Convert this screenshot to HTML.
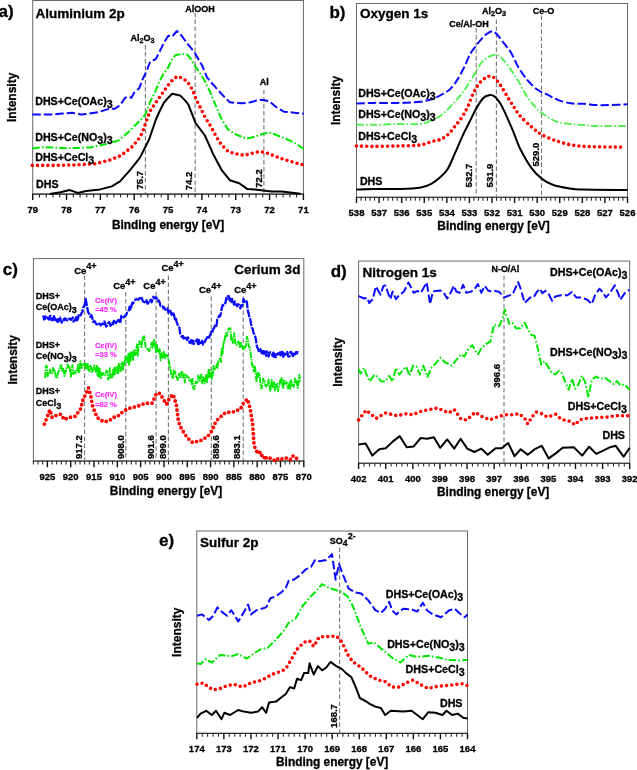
<!DOCTYPE html>
<html><head><meta charset="utf-8"><style>
html,body{margin:0;padding:0;background:#fff;width:637px;height:770px;overflow:hidden}
svg{display:block;will-change:transform}
text{font-family:"Liberation Sans", sans-serif}
</style></head><body>
<svg width="637" height="770" viewBox="0 0 637 770">
<rect width="637" height="770" fill="#fff"/>
<rect x="32.70" y="0.50" width="270.70" height="193.60" fill="none" stroke="#686868" stroke-width="1"/>
<line x1="32.20" y1="194.10" x2="303.90" y2="194.10" stroke="#303030" stroke-width="1.1"/>
<path d="M32.70,194.10v5.8 M66.54,194.10v5.8 M100.38,194.10v5.8 M134.21,194.10v5.8 M168.05,194.10v5.8 M201.89,194.10v5.8 M235.72,194.10v5.8 M269.56,194.10v5.8 M303.40,194.10v5.8" stroke="#111" stroke-width="1.4" fill="none"/>
<path d="M39.47,194.10v3.4 M46.24,194.10v3.4 M53.00,194.10v3.4 M59.77,194.10v3.4 M73.31,194.10v3.4 M80.07,194.10v3.4 M86.84,194.10v3.4 M93.61,194.10v3.4 M107.14,194.10v3.4 M113.91,194.10v3.4 M120.68,194.10v3.4 M127.44,194.10v3.4 M140.98,194.10v3.4 M147.75,194.10v3.4 M154.51,194.10v3.4 M161.28,194.10v3.4 M174.82,194.10v3.4 M181.59,194.10v3.4 M188.35,194.10v3.4 M195.12,194.10v3.4 M208.66,194.10v3.4 M215.42,194.10v3.4 M222.19,194.10v3.4 M228.96,194.10v3.4 M242.49,194.10v3.4 M249.26,194.10v3.4 M256.03,194.10v3.4 M262.79,194.10v3.4 M276.33,194.10v3.4 M283.10,194.10v3.4 M289.86,194.10v3.4 M296.63,194.10v3.4" stroke="#222" stroke-width="1.05" fill="none"/>
<text x="32.70" y="212.60" font-size="9.5" text-anchor="middle" font-weight="bold" fill="#000" stroke="#000" stroke-width="0.3">79</text>
<text x="66.54" y="212.60" font-size="9.5" text-anchor="middle" font-weight="bold" fill="#000" stroke="#000" stroke-width="0.3">78</text>
<text x="100.38" y="212.60" font-size="9.5" text-anchor="middle" font-weight="bold" fill="#000" stroke="#000" stroke-width="0.3">77</text>
<text x="134.21" y="212.60" font-size="9.5" text-anchor="middle" font-weight="bold" fill="#000" stroke="#000" stroke-width="0.3">76</text>
<text x="168.05" y="212.60" font-size="9.5" text-anchor="middle" font-weight="bold" fill="#000" stroke="#000" stroke-width="0.3">75</text>
<text x="201.89" y="212.60" font-size="9.5" text-anchor="middle" font-weight="bold" fill="#000" stroke="#000" stroke-width="0.3">74</text>
<text x="235.72" y="212.60" font-size="9.5" text-anchor="middle" font-weight="bold" fill="#000" stroke="#000" stroke-width="0.3">73</text>
<text x="269.56" y="212.60" font-size="9.5" text-anchor="middle" font-weight="bold" fill="#000" stroke="#000" stroke-width="0.3">72</text>
<text x="303.40" y="212.60" font-size="9.5" text-anchor="middle" font-weight="bold" fill="#000" stroke="#000" stroke-width="0.3">71</text>
<text x="168.05" y="228.70" font-size="11.9" text-anchor="middle" font-weight="bold" fill="#000" stroke="#000" stroke-width="0.3">Binding energy [eV]</text>
<text x="16.50" y="97.30" font-size="12.0" text-anchor="middle" font-weight="bold" fill="#000" stroke="#000" stroke-width="0.3" transform="rotate(-90 16.50 97.30)">Intensity</text>
<text x="-1.50" y="17.00" font-size="17" text-anchor="start" font-weight="bold" fill="#000" stroke="#000" stroke-width="0.3">a)</text>
<text x="35.50" y="17.80" font-size="13.5" text-anchor="start" font-weight="bold" fill="#000" stroke="#000" stroke-width="0.3">Aluminium 2p</text>
<line x1="145.40" y1="45.00" x2="145.40" y2="194.10" stroke="#777777" stroke-width="1.1" stroke-dasharray="4.5,2.5"/>
<line x1="195.12" y1="12.50" x2="195.12" y2="194.10" stroke="#777777" stroke-width="1.1" stroke-dasharray="4.5,2.5"/>
<line x1="263.90" y1="90.00" x2="263.90" y2="194.10" stroke="#777777" stroke-width="1.1" stroke-dasharray="4.5,2.5"/>
<text x="142.50" y="41.00" font-size="9" text-anchor="middle" font-weight="bold" fill="#000" stroke="#000" stroke-width="0.3">Al<tspan dy="2" font-size="0.8em">2</tspan><tspan dy="-2" font-size="1em">O</tspan><tspan dy="2" font-size="0.8em">3</tspan></text>
<text x="200.00" y="11.70" font-size="9" text-anchor="middle" font-weight="bold" fill="#000" stroke="#000" stroke-width="0.3">AlOOH</text>
<text x="264.20" y="84.90" font-size="9" text-anchor="middle" font-weight="bold" fill="#000" stroke="#000" stroke-width="0.3">Al</text>
<text x="143.20" y="189.40" font-size="9.5" text-anchor="start" font-weight="bold" fill="#000" stroke="#000" stroke-width="0.3" transform="rotate(-90 143.20 189.40)">75.7</text>
<text x="192.40" y="190.30" font-size="9.5" text-anchor="start" font-weight="bold" fill="#000" stroke="#000" stroke-width="0.3" transform="rotate(-90 192.40 190.30)">74.2</text>
<text x="261.60" y="187.80" font-size="9.5" text-anchor="start" font-weight="bold" fill="#000" stroke="#000" stroke-width="0.3" transform="rotate(-90 261.60 187.80)">72.2</text>
<polyline points="32.3,114.6 53.4,114.6 62.0,113.5 72.1,112.8 81.4,114.6 97.8,112.3 109.4,108.7 114.9,108.7 120.4,104.8 125.1,97.7 128.3,96.9 131.4,97.7 134.5,92.2 139.2,88.3 142.4,79.7 146.3,71.8 150.2,61.6 155.7,59.2 159.7,51.4 164.4,42.0 168.3,35.7 172.2,36.5 176.9,31.0 181.6,35.7 186.2,42.1 194.5,52.5 201.8,64.9 207.0,77.4 213.2,84.7 221.5,94.0 229.8,102.3 242.3,103.3 250.6,102.3 258.9,99.8 264.1,100.2 269.3,101.3 275.5,106.5 283.8,111.7 294.2,112.7 303.6,113.7" fill="none" stroke="#0a0aff" stroke-width="2.0" stroke-linecap="butt" stroke-linejoin="round" stroke-dasharray="8.5,3"/>
<polyline points="32.3,148.5 42.0,147.2 53.4,147.4 65.0,148.3 76.7,148.0 90.8,147.4 107.1,143.9 118.8,140.4 128.2,132.2 136.0,124.5 140.8,119.7 145.5,114.2 150.2,101.6 154.9,92.2 159.7,81.2 162.8,74.9 167.5,68.7 172.2,59.2 175.4,55.3 181.6,53.8 187.1,54.5 191.0,59.2 195.8,67.1 202.8,77.4 209.1,89.8 215.3,104.4 221.5,118.9 227.8,129.3 236.1,134.5 246.5,138.7 254.8,136.6 261.0,134.5 269.3,132.4 277.6,135.5 288.0,139.7 296.3,143.8 303.6,149.0" fill="none" stroke="#00e600" stroke-width="2.0" stroke-linecap="butt" stroke-linejoin="round" stroke-dasharray="7.5,2.2,1.6,2.2"/>
<polyline points="32.3,165.4 53.4,165.4 76.7,164.9 95.4,163.7 109.5,160.2 121.1,155.5 132.8,146.2 140.5,136.5 144.0,128.0 147.1,118.9 150.2,111.0 154.2,104.8 158.1,99.3 162.0,93.8 167.5,85.9 172.2,80.4 176.9,76.5 182.4,78.1 187.3,81.5 192.5,89.8 196.6,100.2 200.8,108.5 204.9,116.8 211.2,127.2 216.3,136.6 221.5,144.9 228.8,152.1 238.2,154.2 244.4,155.3 252.7,153.2 260.0,151.5 267.2,153.2 275.5,156.3 283.8,159.4 294.2,162.5 302.5,164.6" fill="none" stroke="#ff0000" stroke-width="3.6" stroke-linecap="round" stroke-linejoin="round" stroke-dasharray="0,5.2"/>
<polyline points="49.9,194.1 60.4,192.2 69.7,190.1 77.9,192.9 86.1,191.1 100.1,189.4 111.8,186.4 120.0,181.3 130.5,169.6 139.8,157.9 149.2,139.2 155.7,120.0 159.7,111.0 163.6,103.2 167.5,98.5 172.2,93.8 180.1,95.4 184.8,100.1 188.3,104.4 195.6,123.1 204.9,135.5 213.2,154.2 221.5,169.8 229.8,180.2 239.2,183.3 247.5,189.1 254.8,189.5 263.1,190.6 271.4,191.6 281.8,191.6 290.1,192.6 300.5,193.7" fill="none" stroke="#000000" stroke-width="2.0" stroke-linecap="butt" stroke-linejoin="round"/>
<text x="35.20" y="104.90" font-size="10.7" text-anchor="start" font-weight="bold" fill="#000" stroke="#000" stroke-width="0.3">DHS+Ce(OAc)<tspan dy="3" font-size="1em">3</tspan></text>
<text x="35.20" y="141.40" font-size="10.7" text-anchor="start" font-weight="bold" fill="#000" stroke="#000" stroke-width="0.3">DHS+Ce(NO<tspan dy="3" font-size="1em">3</tspan><tspan dy="-3" font-size="1em">)</tspan><tspan dy="3" font-size="1em">3</tspan></text>
<text x="35.20" y="160.80" font-size="10.7" text-anchor="start" font-weight="bold" fill="#000" stroke="#000" stroke-width="0.3">DHS+CeCl<tspan dy="3" font-size="1em">3</tspan></text>
<text x="36.00" y="187.70" font-size="10.7" text-anchor="start" font-weight="bold" fill="#000" stroke="#000" stroke-width="0.3">DHS</text>
<rect x="356.50" y="3.50" width="271.00" height="193.80" fill="none" stroke="#686868" stroke-width="1"/>
<line x1="356.00" y1="197.30" x2="628.00" y2="197.30" stroke="#303030" stroke-width="1.1"/>
<path d="M356.50,197.30v5.8 M379.08,197.30v5.8 M401.67,197.30v5.8 M424.25,197.30v5.8 M446.83,197.30v5.8 M469.42,197.30v5.8 M492.00,197.30v5.8 M514.58,197.30v5.8 M537.17,197.30v5.8 M559.75,197.30v5.8 M582.33,197.30v5.8 M604.92,197.30v5.8 M627.50,197.30v5.8" stroke="#111" stroke-width="1.4" fill="none"/>
<path d="M361.02,197.30v3.4 M365.53,197.30v3.4 M370.05,197.30v3.4 M374.57,197.30v3.4 M383.60,197.30v3.4 M388.12,197.30v3.4 M392.63,197.30v3.4 M397.15,197.30v3.4 M406.18,197.30v3.4 M410.70,197.30v3.4 M415.22,197.30v3.4 M419.73,197.30v3.4 M428.77,197.30v3.4 M433.28,197.30v3.4 M437.80,197.30v3.4 M442.32,197.30v3.4 M451.35,197.30v3.4 M455.87,197.30v3.4 M460.38,197.30v3.4 M464.90,197.30v3.4 M473.93,197.30v3.4 M478.45,197.30v3.4 M482.97,197.30v3.4 M487.48,197.30v3.4 M496.52,197.30v3.4 M501.03,197.30v3.4 M505.55,197.30v3.4 M510.07,197.30v3.4 M519.10,197.30v3.4 M523.62,197.30v3.4 M528.13,197.30v3.4 M532.65,197.30v3.4 M541.68,197.30v3.4 M546.20,197.30v3.4 M550.72,197.30v3.4 M555.23,197.30v3.4 M564.27,197.30v3.4 M568.78,197.30v3.4 M573.30,197.30v3.4 M577.82,197.30v3.4 M586.85,197.30v3.4 M591.37,197.30v3.4 M595.88,197.30v3.4 M600.40,197.30v3.4 M609.43,197.30v3.4 M613.95,197.30v3.4 M618.47,197.30v3.4 M622.98,197.30v3.4" stroke="#222" stroke-width="1.05" fill="none"/>
<text x="356.50" y="215.80" font-size="9.5" text-anchor="middle" font-weight="bold" fill="#000" stroke="#000" stroke-width="0.3">538</text>
<text x="379.08" y="215.80" font-size="9.5" text-anchor="middle" font-weight="bold" fill="#000" stroke="#000" stroke-width="0.3">537</text>
<text x="401.67" y="215.80" font-size="9.5" text-anchor="middle" font-weight="bold" fill="#000" stroke="#000" stroke-width="0.3">536</text>
<text x="424.25" y="215.80" font-size="9.5" text-anchor="middle" font-weight="bold" fill="#000" stroke="#000" stroke-width="0.3">535</text>
<text x="446.83" y="215.80" font-size="9.5" text-anchor="middle" font-weight="bold" fill="#000" stroke="#000" stroke-width="0.3">534</text>
<text x="469.42" y="215.80" font-size="9.5" text-anchor="middle" font-weight="bold" fill="#000" stroke="#000" stroke-width="0.3">533</text>
<text x="492.00" y="215.80" font-size="9.5" text-anchor="middle" font-weight="bold" fill="#000" stroke="#000" stroke-width="0.3">532</text>
<text x="514.58" y="215.80" font-size="9.5" text-anchor="middle" font-weight="bold" fill="#000" stroke="#000" stroke-width="0.3">531</text>
<text x="537.17" y="215.80" font-size="9.5" text-anchor="middle" font-weight="bold" fill="#000" stroke="#000" stroke-width="0.3">530</text>
<text x="559.75" y="215.80" font-size="9.5" text-anchor="middle" font-weight="bold" fill="#000" stroke="#000" stroke-width="0.3">529</text>
<text x="582.33" y="215.80" font-size="9.5" text-anchor="middle" font-weight="bold" fill="#000" stroke="#000" stroke-width="0.3">528</text>
<text x="604.92" y="215.80" font-size="9.5" text-anchor="middle" font-weight="bold" fill="#000" stroke="#000" stroke-width="0.3">527</text>
<text x="627.50" y="215.80" font-size="9.5" text-anchor="middle" font-weight="bold" fill="#000" stroke="#000" stroke-width="0.3">526</text>
<text x="493.50" y="230.40" font-size="11.9" text-anchor="middle" font-weight="bold" fill="#000" stroke="#000" stroke-width="0.3">Binding energy [eV]</text>
<text x="340.30" y="100.40" font-size="12.0" text-anchor="middle" font-weight="bold" fill="#000" stroke="#000" stroke-width="0.3" transform="rotate(-90 340.30 100.40)">Intensity</text>
<text x="329.40" y="17.60" font-size="17" text-anchor="start" font-weight="bold" fill="#000" stroke="#000" stroke-width="0.3">b)</text>
<text x="360.00" y="18.20" font-size="13.5" text-anchor="start" font-weight="bold" fill="#000" stroke="#000" stroke-width="0.3">Oxygen 1s</text>
<line x1="476.20" y1="28.00" x2="476.20" y2="197.30" stroke="#777777" stroke-width="1.1" stroke-dasharray="4.5,2.5"/>
<line x1="496.40" y1="19.50" x2="496.40" y2="197.30" stroke="#777777" stroke-width="1.1" stroke-dasharray="4.5,2.5"/>
<line x1="541.50" y1="15.60" x2="541.50" y2="197.30" stroke="#777777" stroke-width="1.1" stroke-dasharray="4.5,2.5"/>
<text x="468.90" y="26.60" font-size="9" text-anchor="middle" font-weight="bold" fill="#000" stroke="#000" stroke-width="0.3">Ce/Al-OH</text>
<text x="494.00" y="14.30" font-size="9" text-anchor="middle" font-weight="bold" fill="#000" stroke="#000" stroke-width="0.3">Al<tspan dy="2" font-size="0.8em">2</tspan><tspan dy="-2" font-size="1em">O</tspan><tspan dy="2" font-size="0.8em">3</tspan></text>
<text x="543.60" y="14.30" font-size="9" text-anchor="middle" font-weight="bold" fill="#000" stroke="#000" stroke-width="0.3">Ce-O</text>
<text x="472.30" y="187.40" font-size="9.5" text-anchor="start" font-weight="bold" fill="#000" stroke="#000" stroke-width="0.3" transform="rotate(-90 472.30 187.40)">532.7</text>
<text x="493.00" y="187.40" font-size="9.5" text-anchor="start" font-weight="bold" fill="#000" stroke="#000" stroke-width="0.3" transform="rotate(-90 493.00 187.40)">531.9</text>
<text x="538.80" y="166.50" font-size="9.5" text-anchor="start" font-weight="bold" fill="#000" stroke="#000" stroke-width="0.3" transform="rotate(-90 538.80 166.50)">529.0</text>
<path d="M356.40,103.60 C359.25,103.48 366.72,103.02 373.50,102.90 C380.28,102.78 389.35,103.08 397.10,102.90 C404.85,102.72 413.85,102.57 420.00,101.80 C426.15,101.03 430.10,99.67 434.00,98.30 C437.90,96.93 440.67,95.17 443.40,93.60 C446.13,92.03 448.07,91.23 450.40,88.90 C452.73,86.57 455.07,83.30 457.40,79.60 C459.73,75.90 462.27,70.98 464.40,66.70 C466.53,62.42 468.25,57.40 470.20,53.90 C472.15,50.40 474.35,48.03 476.10,45.70 C477.85,43.37 478.95,41.85 480.70,39.90 C482.45,37.95 484.65,35.45 486.60,34.00 C488.55,32.55 490.65,31.12 492.40,31.20 C494.15,31.28 495.15,32.47 497.10,34.50 C499.05,36.53 501.77,40.37 504.10,43.40 C506.43,46.43 508.77,48.82 511.10,52.70 C513.43,56.58 515.50,62.28 518.10,66.70 C520.70,71.12 523.53,75.40 526.70,79.20 C529.87,83.00 533.63,86.92 537.10,89.50 C540.57,92.08 544.03,92.97 547.50,94.70 C550.97,96.43 554.02,98.47 557.90,99.90 C561.78,101.33 566.48,102.65 570.80,103.30 C575.12,103.95 579.47,103.50 583.80,103.80 C588.13,104.10 592.47,104.88 596.80,105.10 C601.13,105.32 604.68,105.23 609.80,105.10 C614.92,104.97 624.55,104.43 627.50,104.30" fill="none" stroke="#0a0aff" stroke-width="2.0" stroke-linecap="butt" stroke-linejoin="round" stroke-dasharray="8.5,3"/>
<path d="M356.40,124.80 C359.25,124.80 366.72,124.92 373.50,124.80 C380.28,124.68 389.35,124.23 397.10,124.10 C404.85,123.97 413.85,124.80 420.00,124.00 C426.15,123.20 430.10,121.05 434.00,119.30 C437.90,117.55 440.28,116.03 443.40,113.50 C446.52,110.97 449.78,107.22 452.70,104.10 C455.62,100.98 458.17,98.30 460.90,94.80 C463.63,91.30 466.57,87.00 469.10,83.10 C471.63,79.20 473.97,74.90 476.10,71.40 C478.23,67.90 479.57,64.63 481.90,62.10 C484.23,59.57 487.37,57.30 490.10,56.20 C492.83,55.10 495.97,54.72 498.30,55.50 C500.63,56.28 501.97,58.45 504.10,60.90 C506.23,63.35 508.77,66.90 511.10,70.20 C513.43,73.50 515.50,76.40 518.10,80.70 C520.70,85.00 523.53,91.28 526.70,96.00 C529.87,100.72 533.63,105.53 537.10,109.00 C540.57,112.47 544.03,114.63 547.50,116.80 C550.97,118.97 554.02,120.78 557.90,122.00 C561.78,123.22 566.48,123.58 570.80,124.10 C575.12,124.62 579.47,124.80 583.80,125.10 C588.13,125.40 589.52,125.77 596.80,125.90 C604.08,126.03 622.38,125.90 627.50,125.90" fill="none" stroke="#55ee55" stroke-width="2.0" stroke-linecap="butt" stroke-linejoin="round" stroke-dasharray="7.5,2.2,1.6,2.2"/>
<path d="M356.40,146.00 C359.25,146.07 366.72,146.40 373.50,146.40 C380.28,146.40 389.35,146.23 397.10,146.00 C404.85,145.77 414.23,145.75 420.00,145.00 C425.77,144.25 428.20,142.47 431.70,141.50 C435.20,140.53 438.28,140.37 441.00,139.20 C443.72,138.03 445.67,136.65 448.00,134.50 C450.33,132.35 452.65,129.22 455.00,126.30 C457.35,123.38 459.95,120.32 462.10,117.00 C464.25,113.68 465.97,110.50 467.90,106.40 C469.83,102.30 471.75,96.28 473.70,92.40 C475.65,88.52 477.65,85.52 479.60,83.10 C481.55,80.68 483.65,79.07 485.40,77.90 C487.15,76.73 488.53,76.02 490.10,76.10 C491.67,76.18 493.05,76.85 494.80,78.40 C496.55,79.95 498.47,82.28 500.60,85.40 C502.73,88.52 505.45,93.60 507.60,97.10 C509.75,100.60 511.43,103.28 513.50,106.40 C515.57,109.52 516.93,112.33 520.00,115.80 C523.07,119.27 528.18,124.00 531.90,127.20 C535.62,130.40 537.97,132.63 542.30,135.00 C546.63,137.37 552.72,139.68 557.90,141.40 C563.08,143.12 568.22,144.43 573.40,145.30 C578.58,146.17 580.78,146.28 589.00,146.60 C597.22,146.92 617.08,147.10 622.70,147.20" fill="none" stroke="#ff0000" stroke-width="3.6" stroke-linecap="round" stroke-linejoin="round" stroke-dasharray="0,5.2"/>
<path d="M356.40,189.50 C359.25,189.42 366.72,189.08 373.50,189.00 C380.28,188.92 389.35,189.20 397.10,189.00 C404.85,188.80 414.23,188.70 420.00,187.80 C425.77,186.90 428.20,185.48 431.70,183.60 C435.20,181.72 438.28,179.03 441.00,176.50 C443.72,173.97 445.67,172.28 448.00,168.40 C450.33,164.52 452.65,158.47 455.00,153.20 C457.35,147.93 459.75,141.87 462.10,136.80 C464.45,131.73 466.77,127.47 469.10,122.80 C471.43,118.13 473.77,112.88 476.10,108.80 C478.43,104.72 480.97,100.57 483.10,98.30 C485.23,96.03 486.95,95.48 488.90,95.20 C490.85,94.92 492.85,95.12 494.80,96.60 C496.75,98.08 498.67,100.90 500.60,104.10 C502.53,107.30 504.25,111.13 506.40,115.80 C508.55,120.47 511.23,126.65 513.50,132.10 C515.77,137.55 516.93,142.40 520.00,148.50 C523.07,154.60 528.18,163.60 531.90,168.70 C535.62,173.80 538.83,176.42 542.30,179.10 C545.77,181.78 548.38,183.28 552.70,184.80 C557.02,186.32 563.02,187.42 568.20,188.20 C573.38,188.98 573.92,189.20 583.80,189.50 C593.68,189.80 620.22,189.92 627.50,190.00" fill="none" stroke="#000000" stroke-width="2.0" stroke-linecap="butt" stroke-linejoin="round"/>
<text x="358.20" y="97.20" font-size="10.7" text-anchor="start" font-weight="bold" fill="#000" stroke="#000" stroke-width="0.3">DHS+Ce(OAc)<tspan dy="3" font-size="1em">3</tspan></text>
<text x="358.20" y="118.40" font-size="10.7" text-anchor="start" font-weight="bold" fill="#000" stroke="#000" stroke-width="0.3">DHS+Ce(NO<tspan dy="3" font-size="1em">3</tspan><tspan dy="-3" font-size="1em">)</tspan><tspan dy="3" font-size="1em">3</tspan></text>
<text x="358.20" y="140.10" font-size="10.7" text-anchor="start" font-weight="bold" fill="#000" stroke="#000" stroke-width="0.3">DHS+CeCl<tspan dy="3" font-size="1em">3</tspan></text>
<text x="359.90" y="185.30" font-size="10.7" text-anchor="start" font-weight="bold" fill="#000" stroke="#000" stroke-width="0.3">DHS</text>
<rect x="33.40" y="258.60" width="270.40" height="202.40" fill="none" stroke="#686868" stroke-width="1"/>
<line x1="32.90" y1="461.00" x2="304.30" y2="461.00" stroke="#303030" stroke-width="1.1"/>
<path d="M47.39,461.00v6.2 M70.70,461.00v6.2 M94.01,461.00v6.2 M117.32,461.00v6.2 M140.63,461.00v6.2 M163.94,461.00v6.2 M187.25,461.00v6.2 M210.56,461.00v6.2 M233.87,461.00v6.2 M257.18,461.00v6.2 M280.49,461.00v6.2 M303.80,461.00v6.2" stroke="#111" stroke-width="1.4" fill="none"/>
<path d="M33.40,461.00v3.6 M38.06,461.00v3.6 M42.72,461.00v3.6 M52.05,461.00v3.6 M56.71,461.00v3.6 M61.37,461.00v3.6 M66.03,461.00v3.6 M75.36,461.00v3.6 M80.02,461.00v3.6 M84.68,461.00v3.6 M89.34,461.00v3.6 M98.67,461.00v3.6 M103.33,461.00v3.6 M107.99,461.00v3.6 M112.66,461.00v3.6 M121.98,461.00v3.6 M126.64,461.00v3.6 M131.30,461.00v3.6 M135.97,461.00v3.6 M145.29,461.00v3.6 M149.95,461.00v3.6 M154.61,461.00v3.6 M159.28,461.00v3.6 M168.60,461.00v3.6 M173.26,461.00v3.6 M177.92,461.00v3.6 M182.59,461.00v3.6 M191.91,461.00v3.6 M196.57,461.00v3.6 M201.23,461.00v3.6 M205.90,461.00v3.6 M215.22,461.00v3.6 M219.88,461.00v3.6 M224.54,461.00v3.6 M229.21,461.00v3.6 M238.53,461.00v3.6 M243.19,461.00v3.6 M247.86,461.00v3.6 M252.52,461.00v3.6 M261.84,461.00v3.6 M266.50,461.00v3.6 M271.17,461.00v3.6 M275.83,461.00v3.6 M285.15,461.00v3.6 M289.81,461.00v3.6 M294.48,461.00v3.6 M299.14,461.00v3.6" stroke="#222" stroke-width="1.05" fill="none"/>
<text x="47.39" y="479.50" font-size="9.5" text-anchor="middle" font-weight="bold" fill="#000" stroke="#000" stroke-width="0.3">925</text>
<text x="70.70" y="479.50" font-size="9.5" text-anchor="middle" font-weight="bold" fill="#000" stroke="#000" stroke-width="0.3">920</text>
<text x="94.01" y="479.50" font-size="9.5" text-anchor="middle" font-weight="bold" fill="#000" stroke="#000" stroke-width="0.3">915</text>
<text x="117.32" y="479.50" font-size="9.5" text-anchor="middle" font-weight="bold" fill="#000" stroke="#000" stroke-width="0.3">910</text>
<text x="140.63" y="479.50" font-size="9.5" text-anchor="middle" font-weight="bold" fill="#000" stroke="#000" stroke-width="0.3">905</text>
<text x="163.94" y="479.50" font-size="9.5" text-anchor="middle" font-weight="bold" fill="#000" stroke="#000" stroke-width="0.3">900</text>
<text x="187.25" y="479.50" font-size="9.5" text-anchor="middle" font-weight="bold" fill="#000" stroke="#000" stroke-width="0.3">895</text>
<text x="210.56" y="479.50" font-size="9.5" text-anchor="middle" font-weight="bold" fill="#000" stroke="#000" stroke-width="0.3">890</text>
<text x="233.87" y="479.50" font-size="9.5" text-anchor="middle" font-weight="bold" fill="#000" stroke="#000" stroke-width="0.3">885</text>
<text x="257.18" y="479.50" font-size="9.5" text-anchor="middle" font-weight="bold" fill="#000" stroke="#000" stroke-width="0.3">880</text>
<text x="280.49" y="479.50" font-size="9.5" text-anchor="middle" font-weight="bold" fill="#000" stroke="#000" stroke-width="0.3">875</text>
<text x="303.80" y="479.50" font-size="9.5" text-anchor="middle" font-weight="bold" fill="#000" stroke="#000" stroke-width="0.3">870</text>
<text x="166.00" y="495.30" font-size="11.9" text-anchor="middle" font-weight="bold" fill="#000" stroke="#000" stroke-width="0.3">Binding energy [eV]</text>
<text x="17.20" y="359.80" font-size="12.0" text-anchor="middle" font-weight="bold" fill="#000" stroke="#000" stroke-width="0.3" transform="rotate(-90 17.20 359.80)">Intensity</text>
<text x="2.80" y="274.50" font-size="17" text-anchor="start" font-weight="bold" fill="#000" stroke="#000" stroke-width="0.3">c)</text>
<text x="300.40" y="274.10" font-size="13.5" text-anchor="end" font-weight="bold" fill="#000" stroke="#000" stroke-width="0.3">Cerium 3d</text>
<line x1="84.60" y1="275.50" x2="84.60" y2="461.00" stroke="#777777" stroke-width="1.1" stroke-dasharray="4.5,2.5"/>
<line x1="125.80" y1="292.00" x2="125.80" y2="461.00" stroke="#777777" stroke-width="1.1" stroke-dasharray="4.5,2.5"/>
<line x1="156.10" y1="292.00" x2="156.10" y2="461.00" stroke="#777777" stroke-width="1.1" stroke-dasharray="4.5,2.5"/>
<line x1="168.40" y1="275.50" x2="168.40" y2="461.00" stroke="#777777" stroke-width="1.1" stroke-dasharray="4.5,2.5"/>
<line x1="211.30" y1="296.50" x2="211.30" y2="461.00" stroke="#777777" stroke-width="1.1" stroke-dasharray="4.5,2.5"/>
<line x1="243.20" y1="296.50" x2="243.20" y2="461.00" stroke="#777777" stroke-width="1.1" stroke-dasharray="4.5,2.5"/>
<text x="74.20" y="273.80" font-size="9.5" text-anchor="start" font-weight="bold" fill="#000" stroke="#000" stroke-width="0.3">Ce<tspan dy="-4.5" font-size="0.95em">4+</tspan></text>
<text x="113.20" y="289.40" font-size="9.5" text-anchor="start" font-weight="bold" fill="#000" stroke="#000" stroke-width="0.3">Ce<tspan dy="-4.5" font-size="0.95em">4+</tspan></text>
<text x="143.30" y="289.40" font-size="9.5" text-anchor="start" font-weight="bold" fill="#000" stroke="#000" stroke-width="0.3">Ce<tspan dy="-4.5" font-size="0.95em">4+</tspan></text>
<text x="161.40" y="271.40" font-size="9.5" text-anchor="start" font-weight="bold" fill="#000" stroke="#000" stroke-width="0.3">Ce<tspan dy="-4.5" font-size="0.95em">4+</tspan></text>
<text x="199.00" y="293.00" font-size="9.5" text-anchor="start" font-weight="bold" fill="#000" stroke="#000" stroke-width="0.3">Ce<tspan dy="-4.5" font-size="0.95em">4+</tspan></text>
<text x="234.20" y="293.00" font-size="9.5" text-anchor="start" font-weight="bold" fill="#000" stroke="#000" stroke-width="0.3">Ce<tspan dy="-4.5" font-size="0.95em">4+</tspan></text>
<text x="95.00" y="302.60" font-size="7.6" text-anchor="start" font-weight="bold" fill="#ff20ff" stroke="#ff20ff" stroke-width="0.1">Ce(IV)</text>
<text x="95.00" y="311.90" font-size="7.6" text-anchor="start" font-weight="bold" fill="#ff20ff" stroke="#ff20ff" stroke-width="0.1">=45 %</text>
<text x="95.00" y="347.60" font-size="7.6" text-anchor="start" font-weight="bold" fill="#ff20ff" stroke="#ff20ff" stroke-width="0.1">Ce(IV)</text>
<text x="95.00" y="357.00" font-size="7.6" text-anchor="start" font-weight="bold" fill="#ff20ff" stroke="#ff20ff" stroke-width="0.1">=33 %</text>
<text x="95.00" y="396.90" font-size="7.6" text-anchor="start" font-weight="bold" fill="#ff20ff" stroke="#ff20ff" stroke-width="0.1">Ce(IV)</text>
<text x="95.00" y="406.50" font-size="7.6" text-anchor="start" font-weight="bold" fill="#ff20ff" stroke="#ff20ff" stroke-width="0.1">=82 %</text>
<text x="35.80" y="298.90" font-size="9.0" text-anchor="start" font-weight="bold" fill="#000" stroke="#000" stroke-width="0.3">DHS+</text>
<text x="35.80" y="310.00" font-size="9.0" text-anchor="start" font-weight="bold" fill="#000" stroke="#000" stroke-width="0.3">Ce(OAc)<tspan dy="3" font-size="1em">3</tspan></text>
<text x="35.80" y="347.80" font-size="9.0" text-anchor="start" font-weight="bold" fill="#000" stroke="#000" stroke-width="0.3">DHS+</text>
<text x="35.80" y="359.30" font-size="9.0" text-anchor="start" font-weight="bold" fill="#000" stroke="#000" stroke-width="0.3">Ce(NO<tspan dy="3" font-size="1em">3</tspan><tspan dy="-3" font-size="1em">)</tspan><tspan dy="3" font-size="1em">3</tspan></text>
<text x="35.80" y="394.20" font-size="9.0" text-anchor="start" font-weight="bold" fill="#000" stroke="#000" stroke-width="0.3">DHS+</text>
<text x="35.80" y="405.80" font-size="9.0" text-anchor="start" font-weight="bold" fill="#000" stroke="#000" stroke-width="0.3">CeCl<tspan dy="3" font-size="1em">3</tspan></text>
<text x="82.40" y="459.00" font-size="9.5" text-anchor="start" font-weight="bold" fill="#000" stroke="#000" stroke-width="0.3" transform="rotate(-90 82.40 459.00)">917.2</text>
<text x="124.20" y="459.00" font-size="9.5" text-anchor="start" font-weight="bold" fill="#000" stroke="#000" stroke-width="0.3" transform="rotate(-90 124.20 459.00)">908.0</text>
<text x="153.70" y="459.00" font-size="9.5" text-anchor="start" font-weight="bold" fill="#000" stroke="#000" stroke-width="0.3" transform="rotate(-90 153.70 459.00)">901.6</text>
<text x="166.00" y="459.00" font-size="9.5" text-anchor="start" font-weight="bold" fill="#000" stroke="#000" stroke-width="0.3" transform="rotate(-90 166.00 459.00)">899.0</text>
<text x="219.40" y="459.00" font-size="9.5" text-anchor="start" font-weight="bold" fill="#000" stroke="#000" stroke-width="0.3" transform="rotate(-90 219.40 459.00)">889.6</text>
<text x="240.00" y="459.00" font-size="9.5" text-anchor="start" font-weight="bold" fill="#000" stroke="#000" stroke-width="0.3" transform="rotate(-90 240.00 459.00)">883.1</text>
<polyline points="43.3,315.6 44.1,319.4 44.9,319.1 45.8,316.5 46.6,317.8 47.4,317.7 48.2,318.8 49.1,319.6 49.9,316.1 50.7,315.9 51.6,320.2 52.4,318.2 53.2,320.0 54.0,316.2 54.9,318.7 55.7,320.3 56.6,317.9 57.4,321.8 58.3,321.7 59.1,317.3 60.0,317.5 60.8,320.3 61.7,322.6 62.5,319.8 63.4,319.2 64.2,320.4 65.0,318.3 65.9,319.2 66.7,320.2 67.6,320.4 68.4,319.0 69.3,318.9 70.1,318.7 71.0,319.9 71.8,318.9 72.7,317.5 73.5,321.6 74.4,320.1 75.2,320.4 76.1,317.2 77.0,320.4 78.0,318.8 78.9,314.1 79.8,314.2 80.7,315.4 81.5,313.1 82.3,312.1 83.2,307.2 84.0,307.1 84.8,303.5 85.7,298.9 87.3,308.1 88.1,311.8 88.9,313.8 89.7,314.2 90.5,316.9 91.4,315.3 92.3,317.7 93.1,321.9 94.0,321.2 94.9,321.3 95.7,323.4 96.6,324.3 97.4,324.3 98.2,322.9 99.0,323.4 99.8,323.9 100.7,325.4 101.5,324.2 102.3,323.5 103.2,324.0 104.0,321.7 104.8,321.7 105.6,325.2 106.4,326.6 107.3,324.6 108.1,323.5 108.9,322.1 109.8,323.6 110.6,325.8 111.4,324.4 112.2,322.9 113.0,324.3 113.9,320.8 114.7,322.0 115.6,324.1 116.5,321.9 117.5,321.1 118.4,320.0 119.3,321.2 120.2,323.2 121.3,316.0 122.4,317.9 123.3,317.3 124.2,316.9 125.2,315.5 126.1,315.1 127.0,312.8 127.9,312.3 128.8,310.1 129.7,306.6 130.5,309.3 131.4,306.2 132.3,302.7 133.2,303.2 134.1,302.0 134.9,300.3 135.8,299.1 136.7,299.0 137.5,299.6 138.3,299.7 139.2,299.0 140.0,296.9 140.8,298.1 141.7,297.9 142.5,300.2 143.3,301.8 144.1,301.9 145.0,302.3 145.8,302.8 146.6,300.3 147.4,303.7 148.2,303.3 149.1,300.6 149.9,300.7 150.8,299.6 151.7,302.3 152.5,298.6 153.4,296.8 154.3,298.3 155.2,297.8 156.1,297.2 156.9,298.6 157.8,301.4 158.7,300.4 159.6,302.2 160.5,305.8 161.4,305.7 162.4,306.3 163.3,308.4 164.2,307.3 165.0,309.4 165.9,309.7 166.7,308.6 167.5,308.3 168.3,312.6 169.2,310.7 170.0,309.3 170.8,312.6 171.7,314.9 172.5,312.0 173.3,313.2 174.1,315.1 174.9,319.4 175.8,317.7 176.6,321.8 177.5,324.4 178.4,326.4 179.3,327.4 180.3,334.1 181.2,335.9 182.1,337.2 182.9,336.0 183.8,338.6 184.6,337.7 185.4,339.0 186.2,338.0 187.1,340.0 187.9,337.4 188.7,339.0 189.5,342.8 190.3,342.7 191.2,340.1 192.0,343.4 192.8,340.6 193.7,344.0 194.5,343.0 195.4,341.4 196.2,340.6 197.1,339.5 197.9,344.1 198.8,339.8 199.6,343.9 200.5,344.7 201.3,342.8 202.2,340.8 203.0,344.5 203.9,344.2 204.7,342.0 205.6,340.1 206.4,338.6 207.3,337.6 208.1,336.0 209.0,337.6 209.8,335.5 210.7,333.4 211.5,331.3 212.3,332.6 213.2,329.0 214.0,328.4 214.8,325.8 215.7,327.0 216.5,325.5 217.3,319.3 218.2,317.7 219.1,315.8 220.0,316.6 220.9,313.0 221.8,308.1 222.7,304.9 223.6,305.4 224.5,304.4 225.4,302.9 226.4,298.0 227.3,298.9 228.2,296.0 229.0,296.4 229.8,300.5 230.7,298.0 231.5,302.1 232.3,299.2 233.1,300.2 233.9,304.5 234.7,301.4 235.5,304.7 236.3,304.4 237.1,306.2 237.9,304.2 238.7,304.6 239.5,304.8 240.3,308.3 241.1,305.6 241.9,306.0 242.8,304.3 243.6,299.0 244.4,302.0 245.2,300.5 246.1,301.0 246.9,302.0 247.7,310.0 248.6,313.4 249.4,317.5 250.2,318.8 251.0,323.5 251.8,327.6 252.7,328.8 253.5,333.1 254.4,334.3 255.3,336.7 256.1,340.7 257.0,347.1 257.9,348.4 258.7,351.0 259.5,349.3 260.4,349.0 261.2,352.3 262.0,353.2 262.9,349.7 263.7,353.8 264.5,351.5 265.3,351.7 266.1,355.8 266.9,351.5 267.7,352.6 268.5,356.6 269.3,353.8 270.1,352.3 270.9,352.7 271.7,353.2 272.5,355.9 273.3,352.6 274.1,356.8 274.9,354.0 275.8,357.1 276.6,356.7 277.4,353.5 278.2,353.3 279.1,354.4 279.9,352.4 280.7,355.3 281.6,352.1 282.4,351.9 283.2,356.9 284.0,353.3 284.9,354.9 285.7,354.1 286.5,353.3 287.3,351.9 288.1,356.3 288.9,356.5 289.7,356.4 290.5,351.8 291.3,352.3 292.1,354.3 293.0,356.1 293.8,353.7 294.6,354.4 295.4,354.2 296.2,352.0 297.0,353.4 297.8,352.1 298.6,353.0" fill="none" stroke="#0a0aff" stroke-width="2.3" stroke-linecap="butt" stroke-linejoin="round" stroke-dasharray="8,1.2"/>
<polyline points="44.4,377.2 45.2,377.2 46.0,365.7 46.8,366.2 47.6,376.1 48.4,374.9 49.2,374.1 50.0,369.5 50.8,373.5 51.6,373.6 52.4,373.4 53.2,368.0 54.0,371.4 54.8,370.8 55.6,375.0 56.4,378.4 57.2,377.7 58.0,372.4 58.8,371.0 59.6,368.6 60.4,365.5 61.2,365.3 62.0,370.8 62.8,368.8 63.6,369.5 64.4,376.1 65.2,371.2 66.0,371.6 66.8,367.3 67.6,364.4 68.4,368.2 69.2,365.7 70.0,370.4 70.8,376.7 71.6,372.1 72.4,365.3 73.2,374.1 74.0,372.5 74.8,371.2 75.6,373.1 76.4,370.8 77.2,370.8 78.0,364.7 78.8,372.5 79.6,371.8 80.4,361.1 81.2,368.6 82.1,367.8 82.9,364.2 83.7,364.8 84.5,364.0 85.4,369.4 86.2,363.6 87.0,368.5 87.8,362.8 88.6,370.2 89.5,371.0 90.3,365.8 91.1,367.8 91.9,372.9 92.7,370.9 93.5,368.2 94.3,365.2 95.2,367.0 96.0,372.2 96.8,365.7 97.7,375.8 98.5,367.9 99.3,376.6 100.1,369.2 101.0,378.1 101.8,375.2 102.6,373.0 103.4,373.6 104.2,375.7 105.1,375.3 105.9,372.2 106.7,370.6 107.5,374.4 108.3,379.6 109.1,375.4 109.9,368.1 110.7,377.6 111.5,376.1 112.3,378.3 113.1,368.8 113.9,375.8 114.7,366.7 115.5,373.7 116.3,368.1 117.2,366.8 118.0,374.5 118.8,363.8 119.7,368.6 120.5,372.2 121.3,363.6 122.1,362.2 122.9,370.0 123.7,363.1 124.4,365.9 125.2,356.1 126.0,359.5 126.8,356.0 127.6,362.1 128.4,353.9 129.2,364.8 129.9,352.2 130.7,360.9 131.5,351.2 132.3,353.8 133.1,360.0 133.9,350.3 134.7,349.6 135.4,355.1 136.2,350.0 137.0,344.5 137.8,355.7 138.6,343.7 139.4,341.1 140.2,344.0 140.9,346.4 141.7,347.0 142.5,337.7 143.3,339.5 144.1,336.2 145.0,342.3 145.8,347.1 146.6,347.5 147.4,350.3 148.2,349.0 149.1,351.1 149.9,349.8 150.8,346.3 151.7,342.7 152.5,347.9 153.4,343.0 154.3,339.7 155.1,345.5 155.9,352.3 156.7,343.8 157.4,351.0 158.2,349.8 159.0,352.6 159.8,349.1 160.6,360.5 161.5,352.2 162.3,357.6 163.1,356.0 163.9,351.6 164.8,359.4 165.6,354.8 166.4,354.5 167.2,355.7 168.0,358.7 168.8,359.3 169.6,367.7 170.4,367.5 171.2,375.1 172.0,375.9 172.8,378.1 173.6,369.6 174.4,373.8 175.2,371.7 176.0,376.5 176.8,377.3 177.6,380.0 178.4,379.2 179.2,373.7 180.0,376.3 180.8,378.0 181.6,371.7 182.4,372.5 183.2,377.7 184.0,374.2 184.8,382.4 185.6,376.5 186.3,375.0 187.1,376.3 187.9,377.3 188.7,377.4 189.5,381.7 190.3,381.3 191.1,379.6 191.8,384.2 192.6,378.9 193.4,388.3 194.2,389.3 195.0,385.9 195.8,381.6 196.6,382.2 197.4,382.8 198.2,375.5 199.0,379.8 199.8,380.8 200.6,376.0 201.4,374.4 202.2,383.2 203.0,377.2 203.8,378.7 204.6,383.6 205.4,379.1 206.2,374.6 207.0,383.2 207.8,374.8 208.6,369.8 209.4,378.1 210.2,370.1 211.0,372.4 211.8,378.9 212.6,375.6 213.5,366.0 214.3,370.6 215.1,368.9 215.9,368.8 216.8,364.1 217.6,368.0 218.4,360.2 219.3,359.8 220.1,357.9 221.0,362.1 221.8,347.9 222.7,353.6 223.5,341.9 224.3,342.4 225.2,335.7 226.0,332.2 226.9,336.2 227.8,331.8 228.6,328.4 229.5,328.7 230.4,328.3 231.2,339.5 232.0,337.8 232.8,343.1 233.5,340.7 234.3,333.1 235.1,342.5 235.9,345.1 236.7,345.0 237.6,342.6 238.4,341.3 239.2,343.1 240.0,348.1 240.8,341.8 241.7,345.7 242.5,345.6 243.4,350.5 244.3,347.2 245.1,347.6 246.0,345.0 246.9,336.7 247.8,339.3 248.7,346.2 249.5,346.7 250.4,352.4 251.3,359.2 252.2,365.9 253.1,365.1 253.9,371.6 254.8,365.7 255.7,372.6 256.5,382.1 257.4,372.1 258.2,376.7 259.0,373.3 259.8,374.6 260.6,386.2 261.5,388.6 262.3,385.2 263.1,378.6 263.9,381.0 264.7,380.3 265.4,386.1 266.2,386.4 267.0,383.4 267.8,384.7 268.6,379.5 269.4,385.2 270.2,390.7 270.9,388.4 271.7,379.9 272.5,385.6 273.3,388.3 274.1,382.2 274.9,390.4 275.6,384.6 276.4,387.6 277.2,383.6 278.0,391.2 278.7,388.3 279.5,385.4 280.3,379.7 281.1,383.4 281.8,378.0 282.6,385.2 283.4,388.8 284.2,379.5 284.9,383.7 285.7,383.2 286.5,382.1 287.3,385.9 288.0,388.7 288.8,385.6 289.5,382.5 290.3,388.7 291.0,380.4 291.8,385.7 292.5,384.4 293.3,385.7 294.0,386.7 294.8,378.5 295.5,383.5 296.3,380.5 297.0,383.8 297.8,387.8 298.5,383.2 299.3,375.0 300.0,380.8 300.8,381.1" fill="none" stroke="#00e600" stroke-width="1.9" stroke-linecap="butt" stroke-linejoin="round" stroke-dasharray="6,1,1.5,1"/>
<polyline points="44.4,424.1 49.9,409.8 52.1,417.5 56.5,415.3 60.9,414.2 64.2,419.7 68.6,417.5 75.2,416.4 80.7,408.7 82.9,399.9 86.2,393.3 88.4,387.8 90.5,394.4 92.7,406.5 97.1,417.5 103.7,421.9 109.2,420.8 113.6,417.5 119.1,415.3 122.4,412.0 127.9,408.7 136.7,406.5 145.5,403.2 152.1,403.2 156.5,393.3 159.8,393.3 163.1,398.8 166.4,404.3 169.7,397.7 173.0,394.4 176.3,404.3 178.5,421.9 181.8,429.5 187.3,437.7 192.7,442.6 200.9,440.4 207.7,436.4 211.8,430.9 215.9,421.4 220.0,417.3 225.4,412.6 233.6,411.8 240.4,409.1 243.2,403.6 247.3,399.0 250.0,407.7 252.7,424.1 253.8,442.2 254.9,447.7 257.1,452.1 259.3,451.0 261.0,455.9 263.2,454.8 265.4,459.8 266.5,457.0 271.4,458.7 273.1,459.8 275.8,460.9 278.6,458.1 280.8,458.7 283.5,459.2 286.3,458.1 290.1,459.8 292.9,455.9 296.2,458.7 299.5,455.4" fill="none" stroke="#ff0000" stroke-width="3.8" stroke-linecap="round" stroke-linejoin="round" stroke-dasharray="0,4.6"/>
<rect x="358.60" y="261.10" width="271.10" height="202.10" fill="none" stroke="#686868" stroke-width="1"/>
<line x1="358.10" y1="463.20" x2="630.20" y2="463.20" stroke="#303030" stroke-width="1.1"/>
<path d="M358.60,463.20v5.8 M385.71,463.20v5.8 M412.82,463.20v5.8 M439.93,463.20v5.8 M467.04,463.20v5.8 M494.15,463.20v5.8 M521.26,463.20v5.8 M548.37,463.20v5.8 M575.48,463.20v5.8 M602.59,463.20v5.8 M629.70,463.20v5.8" stroke="#111" stroke-width="1.4" fill="none"/>
<path d="M364.02,463.20v3.4 M369.44,463.20v3.4 M374.87,463.20v3.4 M380.29,463.20v3.4 M391.13,463.20v3.4 M396.55,463.20v3.4 M401.98,463.20v3.4 M407.40,463.20v3.4 M418.24,463.20v3.4 M423.66,463.20v3.4 M429.09,463.20v3.4 M434.51,463.20v3.4 M445.35,463.20v3.4 M450.77,463.20v3.4 M456.20,463.20v3.4 M461.62,463.20v3.4 M472.46,463.20v3.4 M477.88,463.20v3.4 M483.31,463.20v3.4 M488.73,463.20v3.4 M499.57,463.20v3.4 M504.99,463.20v3.4 M510.42,463.20v3.4 M515.84,463.20v3.4 M526.68,463.20v3.4 M532.10,463.20v3.4 M537.53,463.20v3.4 M542.95,463.20v3.4 M553.79,463.20v3.4 M559.21,463.20v3.4 M564.64,463.20v3.4 M570.06,463.20v3.4 M580.90,463.20v3.4 M586.32,463.20v3.4 M591.75,463.20v3.4 M597.17,463.20v3.4 M608.01,463.20v3.4 M613.43,463.20v3.4 M618.86,463.20v3.4 M624.28,463.20v3.4" stroke="#222" stroke-width="1.05" fill="none"/>
<text x="358.60" y="481.70" font-size="9.5" text-anchor="middle" font-weight="bold" fill="#000" stroke="#000" stroke-width="0.3">402</text>
<text x="385.71" y="481.70" font-size="9.5" text-anchor="middle" font-weight="bold" fill="#000" stroke="#000" stroke-width="0.3">401</text>
<text x="412.82" y="481.70" font-size="9.5" text-anchor="middle" font-weight="bold" fill="#000" stroke="#000" stroke-width="0.3">400</text>
<text x="439.93" y="481.70" font-size="9.5" text-anchor="middle" font-weight="bold" fill="#000" stroke="#000" stroke-width="0.3">399</text>
<text x="467.04" y="481.70" font-size="9.5" text-anchor="middle" font-weight="bold" fill="#000" stroke="#000" stroke-width="0.3">398</text>
<text x="494.15" y="481.70" font-size="9.5" text-anchor="middle" font-weight="bold" fill="#000" stroke="#000" stroke-width="0.3">397</text>
<text x="521.26" y="481.70" font-size="9.5" text-anchor="middle" font-weight="bold" fill="#000" stroke="#000" stroke-width="0.3">396</text>
<text x="548.37" y="481.70" font-size="9.5" text-anchor="middle" font-weight="bold" fill="#000" stroke="#000" stroke-width="0.3">395</text>
<text x="575.48" y="481.70" font-size="9.5" text-anchor="middle" font-weight="bold" fill="#000" stroke="#000" stroke-width="0.3">394</text>
<text x="602.59" y="481.70" font-size="9.5" text-anchor="middle" font-weight="bold" fill="#000" stroke="#000" stroke-width="0.3">393</text>
<text x="629.70" y="481.70" font-size="9.5" text-anchor="middle" font-weight="bold" fill="#000" stroke="#000" stroke-width="0.3">392</text>
<text x="493.15" y="496.00" font-size="11.9" text-anchor="middle" font-weight="bold" fill="#000" stroke="#000" stroke-width="0.3">Binding energy [eV]</text>
<text x="342.40" y="362.15" font-size="12.0" text-anchor="middle" font-weight="bold" fill="#000" stroke="#000" stroke-width="0.3" transform="rotate(-90 342.40 362.15)">Intensity</text>
<text x="330.70" y="277.00" font-size="17" text-anchor="start" font-weight="bold" fill="#000" stroke="#000" stroke-width="0.3">d)</text>
<text x="362.50" y="277.00" font-size="13.5" text-anchor="start" font-weight="bold" fill="#000" stroke="#000" stroke-width="0.3">Nitrogen 1s</text>
<line x1="504.00" y1="276.00" x2="504.00" y2="463.20" stroke="#777777" stroke-width="1.1" stroke-dasharray="4.5,2.5"/>
<text x="505.40" y="272.30" font-size="8.9" text-anchor="middle" font-weight="bold" fill="#000" stroke="#000" stroke-width="0.3">N-O/Al</text>
<text x="499.80" y="387.70" font-size="9.5" text-anchor="start" font-weight="bold" fill="#000" stroke="#000" stroke-width="0.3" transform="rotate(-90 499.80 387.70)">396.6</text>
<text x="627.50" y="276.00" font-size="10.7" text-anchor="end" font-weight="bold" fill="#000" stroke="#000" stroke-width="0.3">DHS+Ce(OAc)<tspan dy="3" font-size="1em">3</tspan></text>
<text x="627.50" y="356.10" font-size="10.7" text-anchor="end" font-weight="bold" fill="#000" stroke="#000" stroke-width="0.3">DHS+Ce(NO<tspan dy="3" font-size="1em">3</tspan><tspan dy="-3" font-size="1em">)</tspan><tspan dy="3" font-size="1em">3</tspan></text>
<text x="626.90" y="410.10" font-size="10.7" text-anchor="end" font-weight="bold" fill="#000" stroke="#000" stroke-width="0.3">DHS+CeCl<tspan dy="3" font-size="1em">3</tspan></text>
<text x="625.00" y="439.40" font-size="10.7" text-anchor="end" font-weight="bold" fill="#000" stroke="#000" stroke-width="0.3">DHS</text>
<polyline points="358.6,296.2 364.1,298.5 367.5,297.8 369.1,303.0 372.8,299.1 375.9,286.4 378.7,291.6 380.5,294.6 383.5,285.9 385.7,285.5 388.0,292.8 390.3,299.1 392.6,291.6 396.0,299.1 399.4,295.0 403.9,291.6 408.5,282.5 411.5,288.2 413.7,292.8 417.6,290.9 421.0,292.8 424.4,286.4 426.7,282.5 428.3,292.8 430.1,304.1 432.8,291.6 435.8,290.9 440.4,290.5 443.8,292.8 447.2,298.5 450.6,292.8 454.0,285.9 456.3,291.6 459.7,292.8 463.1,284.8 466.5,292.8 471.1,291.6 474.5,289.3 477.9,284.1 481.3,292.8 484.8,285.9 488.2,290.5 491.6,291.6 495.0,290.9 499.4,292.0 503.8,297.5 508.2,295.9 512.6,294.2 518.1,282.1 520.3,287.6 522.5,295.3 524.7,303.0 528.0,299.7 530.2,297.5 533.5,297.5 536.8,292.0 540.0,288.7 542.3,293.1 545.5,290.9 548.8,294.2 552.1,300.8 555.4,296.4 560.9,295.3 567.5,295.3 571.9,292.0 576.3,297.5 581.8,297.5 587.3,299.7 591.7,304.1 595.0,295.3 599.4,288.7 602.7,292.0 606.0,297.5 610.4,292.0 614.8,285.4 618.1,293.1 620.3,299.7 624.7,293.1 629.5,289.8" fill="none" stroke="#0a0aff" stroke-width="2.0" stroke-linecap="butt" stroke-linejoin="round" stroke-dasharray="8.5,3"/>
<polyline points="358.6,369.0 360.7,373.6 364.1,367.9 367.5,377.0 369.8,381.5 374.3,374.7 377.8,377.0 381.2,381.5 385.7,381.1 389.1,375.8 392.6,381.5 396.0,367.9 399.4,374.7 402.8,370.2 406.2,366.7 409.6,375.8 413.0,365.6 416.5,366.7 419.9,374.7 423.3,365.6 427.4,377.0 431.3,367.9 435.8,363.3 440.4,357.6 444.9,362.2 451.7,365.6 456.3,359.9 460.8,354.2 464.3,356.5 468.8,348.5 472.2,345.1 475.6,350.8 477.9,354.2 481.3,348.5 485.9,344.0 490.4,341.7 493.9,324.6 497.3,325.8 499.4,326.0 502.7,317.3 504.9,309.6 507.1,317.3 509.3,323.8 512.6,322.7 515.9,328.2 520.3,328.2 524.7,322.7 528.0,329.3 531.3,334.8 534.6,335.9 537.9,349.1 541.2,364.5 544.5,361.2 548.8,367.8 552.1,373.3 555.4,374.4 558.7,371.1 562.0,373.3 565.3,382.1 568.6,389.8 571.9,378.8 575.2,388.7 578.5,384.3 581.8,375.5 585.1,382.1 588.4,397.5 591.7,379.9 596.1,376.6 600.5,378.8 604.9,377.7 609.3,381.0 613.7,384.3 617.0,381.0 620.3,385.4 624.7,384.3 629.5,389.8" fill="none" stroke="#00e600" stroke-width="2.0" stroke-linecap="butt" stroke-linejoin="round" stroke-dasharray="7.5,2.2,1.6,2.2"/>
<polyline points="358.6,419.9 366.2,410.1 376.0,418.5 385.7,412.9 396.9,415.7 406.7,413.7 412.3,414.8 422.1,410.9 437.4,408.1 448.6,412.9 454.2,409.5 461.2,419.3 466.8,419.9 475.1,412.3 482.1,416.5 490.0,419.9 498.4,416.5 505.4,414.8 512.4,414.8 519.3,413.7 524.9,418.5 527.7,424.0 531.9,417.1 536.1,412.0 541.7,413.7 547.3,417.1 555.7,414.3 561.2,419.3 569.6,421.2 575.2,424.9 579.4,419.9 586.4,418.5 596.2,417.6 607.4,417.1 615.7,415.7 628.3,415.7" fill="none" stroke="#ff0000" stroke-width="3.6" stroke-linecap="round" stroke-linejoin="round" stroke-dasharray="0,5.2"/>
<polyline points="358.6,444.4 365.6,443.6 372.3,455.6 379.3,449.2 385.7,448.3 392.7,441.6 399.7,436.1 406.7,447.2 413.7,446.4 420.7,438.0 427.1,438.8 433.8,437.2 440.2,447.8 447.2,439.4 454.2,448.6 460.6,438.8 467.3,448.6 474.3,452.0 481.3,448.6 487.7,454.8 495.6,448.3 501.7,448.3 508.2,443.0 514.6,456.2 520.7,449.2 527.7,454.8 534.7,449.2 541.7,445.8 548.7,458.4 555.7,453.4 562.6,447.8 573.8,447.2 582.2,455.6 589.2,446.7 596.2,453.9 603.2,450.6 610.1,447.2 615.7,445.8 623.6,456.7 629.7,447.8" fill="none" stroke="#000000" stroke-width="2.0" stroke-linecap="butt" stroke-linejoin="round"/>
<rect x="196.80" y="531.00" width="270.70" height="202.40" fill="none" stroke="#686868" stroke-width="1"/>
<line x1="196.30" y1="733.40" x2="468.00" y2="733.40" stroke="#303030" stroke-width="1.1"/>
<path d="M196.80,733.40v5.8 M223.87,733.40v5.8 M250.94,733.40v5.8 M278.01,733.40v5.8 M305.08,733.40v5.8 M332.15,733.40v5.8 M359.22,733.40v5.8 M386.29,733.40v5.8 M413.36,733.40v5.8 M440.43,733.40v5.8 M467.50,733.40v5.8" stroke="#111" stroke-width="1.4" fill="none"/>
<path d="M202.21,733.40v3.4 M207.63,733.40v3.4 M213.04,733.40v3.4 M218.46,733.40v3.4 M229.28,733.40v3.4 M234.70,733.40v3.4 M240.11,733.40v3.4 M245.53,733.40v3.4 M256.35,733.40v3.4 M261.77,733.40v3.4 M267.18,733.40v3.4 M272.60,733.40v3.4 M283.42,733.40v3.4 M288.84,733.40v3.4 M294.25,733.40v3.4 M299.67,733.40v3.4 M310.49,733.40v3.4 M315.91,733.40v3.4 M321.32,733.40v3.4 M326.74,733.40v3.4 M337.56,733.40v3.4 M342.98,733.40v3.4 M348.39,733.40v3.4 M353.81,733.40v3.4 M364.63,733.40v3.4 M370.05,733.40v3.4 M375.46,733.40v3.4 M380.88,733.40v3.4 M391.70,733.40v3.4 M397.12,733.40v3.4 M402.53,733.40v3.4 M407.95,733.40v3.4 M418.77,733.40v3.4 M424.19,733.40v3.4 M429.60,733.40v3.4 M435.02,733.40v3.4 M445.84,733.40v3.4 M451.26,733.40v3.4 M456.67,733.40v3.4 M462.09,733.40v3.4" stroke="#222" stroke-width="1.05" fill="none"/>
<text x="196.80" y="751.90" font-size="9.5" text-anchor="middle" font-weight="bold" fill="#000" stroke="#000" stroke-width="0.3">174</text>
<text x="223.87" y="751.90" font-size="9.5" text-anchor="middle" font-weight="bold" fill="#000" stroke="#000" stroke-width="0.3">173</text>
<text x="250.94" y="751.90" font-size="9.5" text-anchor="middle" font-weight="bold" fill="#000" stroke="#000" stroke-width="0.3">172</text>
<text x="278.01" y="751.90" font-size="9.5" text-anchor="middle" font-weight="bold" fill="#000" stroke="#000" stroke-width="0.3">171</text>
<text x="305.08" y="751.90" font-size="9.5" text-anchor="middle" font-weight="bold" fill="#000" stroke="#000" stroke-width="0.3">170</text>
<text x="332.15" y="751.90" font-size="9.5" text-anchor="middle" font-weight="bold" fill="#000" stroke="#000" stroke-width="0.3">169</text>
<text x="359.22" y="751.90" font-size="9.5" text-anchor="middle" font-weight="bold" fill="#000" stroke="#000" stroke-width="0.3">168</text>
<text x="386.29" y="751.90" font-size="9.5" text-anchor="middle" font-weight="bold" fill="#000" stroke="#000" stroke-width="0.3">167</text>
<text x="413.36" y="751.90" font-size="9.5" text-anchor="middle" font-weight="bold" fill="#000" stroke="#000" stroke-width="0.3">166</text>
<text x="440.43" y="751.90" font-size="9.5" text-anchor="middle" font-weight="bold" fill="#000" stroke="#000" stroke-width="0.3">165</text>
<text x="467.50" y="751.90" font-size="9.5" text-anchor="middle" font-weight="bold" fill="#000" stroke="#000" stroke-width="0.3">164</text>
<text x="332.15" y="766.40" font-size="11.9" text-anchor="middle" font-weight="bold" fill="#000" stroke="#000" stroke-width="0.3">Binding energy [eV]</text>
<text x="180.60" y="632.20" font-size="12.0" text-anchor="middle" font-weight="bold" fill="#000" stroke="#000" stroke-width="0.3" transform="rotate(-90 180.60 632.20)">Intensity</text>
<text x="159.00" y="545.80" font-size="17" text-anchor="start" font-weight="bold" fill="#000" stroke="#000" stroke-width="0.3">e)</text>
<text x="199.90" y="547.40" font-size="13.5" text-anchor="start" font-weight="bold" fill="#000" stroke="#000" stroke-width="0.3">Sulfur 2p</text>
<line x1="339.60" y1="547.40" x2="339.60" y2="733.40" stroke="#777777" stroke-width="1.1" stroke-dasharray="4.5,2.5"/>
<text x="329.80" y="543.80" font-size="9" text-anchor="start" font-weight="bold" fill="#000" stroke="#000" stroke-width="0.3">SO<tspan dy="2.6" font-size="0.95em">4</tspan><tspan dx="0.3" dy="-7" font-size="0.95em">2-</tspan></text>
<text x="337.10" y="727.90" font-size="9.5" text-anchor="start" font-weight="bold" fill="#000" stroke="#000" stroke-width="0.3" transform="rotate(-90 337.10 727.90)">168.7</text>
<text x="463.30" y="598.20" font-size="10.7" text-anchor="end" font-weight="bold" fill="#000" stroke="#000" stroke-width="0.3">DHS+Ce(OAc)<tspan dy="3" font-size="1em">3</tspan></text>
<text x="464.70" y="648.00" font-size="10.7" text-anchor="end" font-weight="bold" fill="#000" stroke="#000" stroke-width="0.3">DHS+Ce(NO<tspan dy="3" font-size="1em">3</tspan><tspan dy="-3" font-size="1em">)</tspan><tspan dy="3" font-size="1em">3</tspan></text>
<text x="464.70" y="673.10" font-size="10.7" text-anchor="end" font-weight="bold" fill="#000" stroke="#000" stroke-width="0.3">DHS+CeCl<tspan dy="3" font-size="1em">3</tspan></text>
<text x="462.50" y="706.60" font-size="10.7" text-anchor="end" font-weight="bold" fill="#000" stroke="#000" stroke-width="0.3">DHS</text>
<polyline points="197.0,615.8 202.0,614.4 209.0,620.0 213.2,615.8 217.4,607.4 221.5,611.6 227.1,615.8 231.3,610.2 238.3,621.4 242.5,614.4 248.1,604.6 250.9,614.4 256.5,610.2 266.2,607.4 270.4,598.2 276.0,596.2 281.6,592.1 285.8,587.9 288.6,580.9 294.2,579.5 299.8,575.3 305.4,569.7 311.0,566.9 315.1,559.9 319.3,561.3 326.3,559.9 332.0,554.3 335.6,579.5 339.0,564.1 343.2,575.3 348.7,588.7 355.7,592.6 361.3,593.5 368.3,600.4 375.3,610.2 380.9,613.0 385.1,608.8 389.3,601.8 392.1,610.2 396.2,614.4 403.2,608.8 411.6,609.4 417.2,611.6 422.8,602.7 427.0,610.2 432.6,614.4 441.0,617.2 449.3,610.2 454.9,608.8 459.1,613.0 464.7,617.2 467.5,614.4" fill="none" stroke="#0a0aff" stroke-width="2.0" stroke-linecap="butt" stroke-linejoin="round" stroke-dasharray="8.5,3"/>
<polyline points="197.0,663.3 200.6,664.1 206.2,659.1 211.8,662.7 220.1,654.9 231.3,656.3 238.3,654.1 246.7,658.6 253.7,653.5 260.7,649.3 267.6,647.9 276.0,639.6 284.4,629.8 288.6,622.8 295.6,618.6 302.6,606.0 309.6,597.6 316.5,590.7 322.1,584.2 329.1,587.9 333.4,589.3 341.8,592.1 347.4,596.2 352.9,606.0 361.3,628.4 368.3,643.7 373.9,642.3 383.7,650.7 392.1,657.7 400.4,662.5 408.8,654.9 417.2,656.9 428.4,655.8 439.6,657.7 448.0,660.0 459.1,660.5 467.5,659.7" fill="none" stroke="#00e600" stroke-width="2.0" stroke-linecap="butt" stroke-linejoin="round" stroke-dasharray="7.5,2.2,1.6,2.2"/>
<polyline points="197.0,684.3 203.4,682.9 207.6,686.5 213.2,689.9 220.1,688.5 227.1,685.7 234.1,684.3 242.5,687.1 250.9,682.9 262.1,680.1 271.8,674.5 280.2,671.7 285.8,668.9 291.4,659.1 297.0,649.3 304.0,642.3 309.6,641.0 313.7,646.5 319.3,636.8 326.3,636.8 330.6,636.2 336.2,636.2 340.4,639.6 344.6,647.9 348.7,656.3 352.9,661.9 361.3,667.5 369.7,675.9 378.1,680.1 385.1,681.5 392.1,687.1 399.0,687.1 406.0,682.9 413.0,680.1 420.0,684.3 428.4,688.5 436.8,686.5 445.1,685.7 453.5,684.8 461.9,683.7 467.5,685.7" fill="none" stroke="#ff0000" stroke-width="3.6" stroke-linecap="round" stroke-linejoin="round" stroke-dasharray="0,5.2"/>
<polyline points="197.0,717.8 200.6,713.6 206.2,710.8 211.8,715.0 216.0,710.8 221.5,719.2 224.3,712.8 230.0,715.0 238.3,710.0 243.9,711.6 250.9,712.8 257.9,711.6 262.1,707.2 266.2,712.8 269.0,702.4 276.0,701.6 280.2,698.2 285.8,694.0 290.0,687.1 294.2,688.5 297.0,678.7 301.2,680.1 304.0,673.1 308.2,673.1 309.6,663.3 313.7,674.5 317.9,666.1 322.1,670.3 326.3,667.5 330.6,661.9 336.2,666.1 341.8,668.9 346.0,673.1 351.5,677.3 355.7,687.1 359.9,698.2 365.5,701.0 369.7,703.8 375.3,706.6 380.9,708.0 385.1,715.0 390.7,710.8 403.2,711.6 411.6,710.8 417.2,715.0 422.8,719.2 428.4,712.2 435.4,712.8 442.4,715.0 446.5,710.8 452.1,715.0 457.7,713.6 463.3,717.8 467.5,718.6" fill="none" stroke="#000000" stroke-width="2.0" stroke-linecap="butt" stroke-linejoin="round"/>
</svg>
</body></html>
